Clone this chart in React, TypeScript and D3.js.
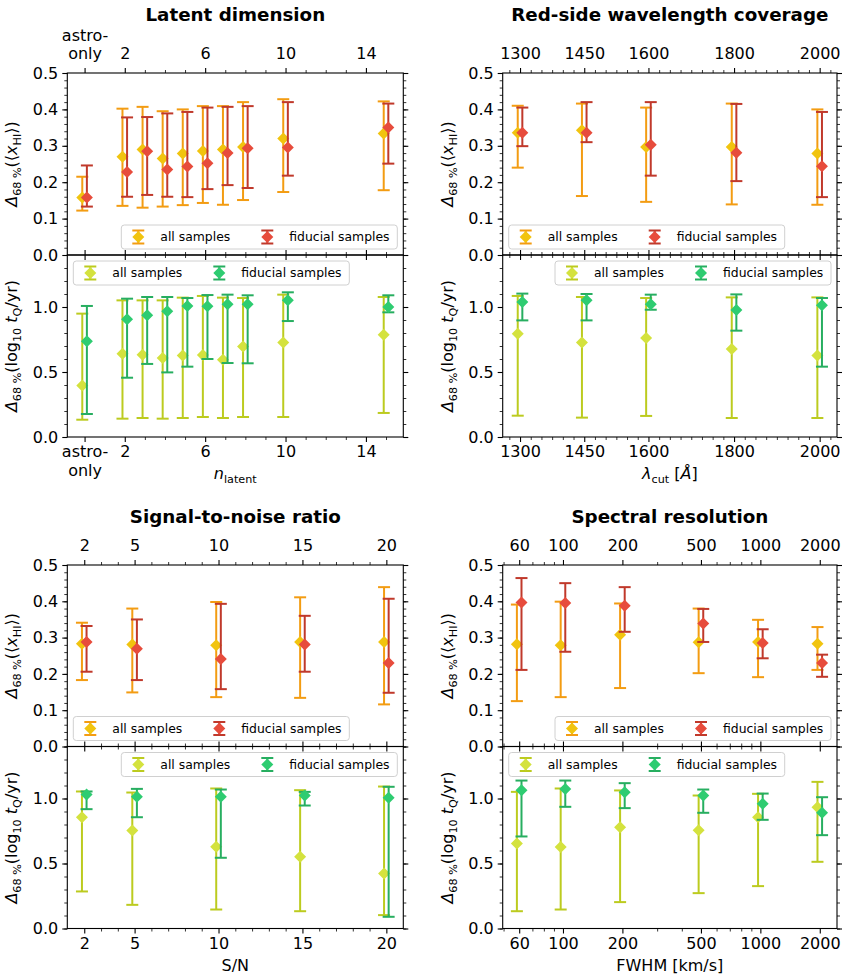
import React, { useEffect, useRef } from 'react';
import * as d3 from 'd3';

// ---- data: each row is [value, lower end of bar, upper end of bar] ----
const latentX = [0, 2, 3, 4, 5, 6, 7, 8, 10, 15];
const latentTicks = [0, 2, 6, 10, 14];
const latentTickLabels = ['astro-\nonly', '2', '6', '10', '14'];
const latentXhiAll = [[0.158, 0.122, 0.215], [0.27, 0.135, 0.402], [0.29, 0.13, 0.407], [0.265, 0.133, 0.395], [0.279, 0.137, 0.4], [0.286, 0.143, 0.409], [0.29, 0.138, 0.409], [0.297, 0.151, 0.42], [0.32, 0.173, 0.428], [0.334, 0.178, 0.422]];
const latentXhiFid = [[0.158, 0.133, 0.246], [0.228, 0.16, 0.378], [0.285, 0.165, 0.379], [0.235, 0.16, 0.389], [0.243, 0.159, 0.393], [0.252, 0.181, 0.405], [0.28, 0.192, 0.407], [0.293, 0.184, 0.409], [0.295, 0.218, 0.42], [0.35, 0.251, 0.416]];
const latentTqAll = [[0.397, 0.133, 0.949], [0.641, 0.141, 1.051], [0.633, 0.146, 1.051], [0.608, 0.141, 1.051], [0.626, 0.146, 1.072], [0.631, 0.154, 1.085], [0.595, 0.146, 1.072], [0.697, 0.154, 1.069], [0.726, 0.154, 1.095], [0.787, 0.185, 1.077]];
const latentTqFid = [[0.736, 0.177, 1.008], [0.905, 0.456, 1.064], [0.936, 0.562, 1.077], [0.967, 0.497, 1.077], [1.008, 0.541, 1.069], [1.005, 0.6, 1.092], [1.021, 0.569, 1.095], [1.021, 0.567, 1.09], [1.051, 0.892, 1.113], [1.0, 0.959, 1.09]];

const lambdaX = [1300, 1450, 1600, 1800, 2000];
const lambdaXhiAll = [[0.336, 0.24, 0.41], [0.343, 0.162, 0.416], [0.297, 0.146, 0.405], [0.297, 0.139, 0.416], [0.279, 0.138, 0.4]];
const lambdaXhiFid = [[0.336, 0.299, 0.405], [0.336, 0.31, 0.42], [0.303, 0.218, 0.42], [0.281, 0.203, 0.415], [0.244, 0.159, 0.393]];
const lambdaTqAll = [[0.795, 0.164, 1.085], [0.726, 0.149, 1.077], [0.762, 0.162, 1.069], [0.677, 0.146, 1.074], [0.626, 0.146, 1.074]];
const lambdaTqFid = [[1.038, 0.897, 1.103], [1.051, 0.897, 1.1], [1.021, 0.979, 1.095], [0.977, 0.818, 1.097], [1.013, 0.541, 1.069]];

const snrX = [2, 5, 10, 15, 20];
const snrXhiAll = [[0.283, 0.183, 0.341], [0.281, 0.149, 0.38], [0.279, 0.136, 0.398], [0.288, 0.134, 0.411], [0.288, 0.116, 0.439]];
const snrXhiFid = [[0.288, 0.206, 0.332], [0.269, 0.183, 0.35], [0.241, 0.158, 0.393], [0.281, 0.206, 0.36], [0.23, 0.148, 0.407]];
const snrTqAll = [[0.856, 0.285, 1.054], [0.754, 0.182, 1.046], [0.628, 0.146, 1.077], [0.551, 0.133, 1.064], [0.423, 0.103, 1.092]];
const snrTqFid = [[1.031, 0.918, 1.054], [1.013, 0.856, 1.074], [1.013, 0.544, 1.069], [1.023, 0.946, 1.051], [1.005, 0.09, 1.09]];

const fwhmX = [60, 100, 200, 500, 1000, 2000];
const fwhmXhiAll = [[0.282, 0.125, 0.391], [0.279, 0.136, 0.399], [0.308, 0.161, 0.394], [0.287, 0.202, 0.38], [0.288, 0.191, 0.349], [0.283, 0.211, 0.329]];
const fwhmXhiFid = [[0.397, 0.211, 0.464], [0.395, 0.261, 0.45], [0.388, 0.316, 0.439], [0.339, 0.288, 0.379], [0.285, 0.243, 0.323], [0.23, 0.192, 0.253]];
const fwhmTqAll = [[0.654, 0.133, 1.051], [0.626, 0.146, 1.077], [0.779, 0.203, 1.062], [0.756, 0.272, 1.023], [0.856, 0.326, 1.036], [0.933, 0.513, 1.128]];
const fwhmTqFid = [[1.064, 0.708, 1.138], [1.074, 0.936, 1.138], [1.049, 0.926, 1.118], [1.023, 0.89, 1.069], [0.959, 0.836, 1.038], [0.89, 0.718, 1.01]];

const FONT = "'DejaVu Sans', sans-serif";
const TICK_FS = 16;
const colors = {
  xhiAllMark: '#f1c40f', xhiAllBar: '#f39c12',
  xhiFidMark: '#e74c3c', xhiFidBar: '#c0392b',
  tqAllMark: '#d4e23e', tqAllBar: '#bccb1f',
  tqFidMark: '#2ecc71', tqFidBar: '#27ae60',
};

// label pieces: [text, style]  i = italic, s = subscript
type Seg = [string, string];
const yLabelXhi: Seg[] = [['Δ', 'i'], ['68 %', 's'], ['(⟨', ''], ['x', 'i'], ['HI', 's'], ['⟩)', '']];
const yLabelTq: Seg[] = [['Δ', 'i'], ['68 %', 's'], ['(log', ''], ['10', 's'], [' ', ''], ['t', 'i'], ['Q', 's'], ['/yr)', '']];

const panels = [
  {
    title: 'Latent dimension', titleY: 20.7, left: 67.3, right: 403.3, top: 73, mid: 255, bottom: 437,
    xs: latentX, log: false, domain: [-0.86, 15.86], major: latentTicks, majorLabels: latentTickLabels,
    minor: d3.range(3, 16).filter(v => !latentTicks.includes(v)),
    xlabel: [['n', 'i'], ['latent', 's']] as Seg[],
    xhiAll: latentXhiAll, xhiFid: latentXhiFid, tqAll: latentTqAll, tqFid: latentTqFid,
    legUpper: 'lower right', legLower: 'upper left',
  },
  {
    title: 'Red-side wavelength coverage', titleY: 20.7, left: 502.7, right: 837, top: 73, mid: 255, bottom: 437,
    xs: lambdaX, log: false, domain: [1259.5, 2040.5], major: lambdaX, majorLabels: lambdaX.map(String),
    minor: d3.range(1275, 2040, 25).filter(v => !lambdaX.includes(v)),
    xlabel: [['λ', 'i'], ['cut', 's'], [' [', ''], ['Å', 'i'], [']', '']] as Seg[],
    xhiAll: lambdaXhiAll, xhiFid: lambdaXhiFid, tqAll: lambdaTqAll, tqFid: lambdaTqFid,
    legUpper: 'lower left', legLower: 'upper right',
  },
  {
    title: 'Signal-to-noise ratio', titleY: 523.3, left: 67.3, right: 403.3, top: 565, mid: 746.5, bottom: 928.5,
    xs: snrX, log: false, domain: [0.99, 21.01], major: snrX, majorLabels: snrX.map(String),
    minor: d3.range(3, 20).filter(v => !snrX.includes(v)),
    xlabel: [['S/N', '']] as Seg[],
    xhiAll: snrXhiAll, xhiFid: snrXhiFid, tqAll: snrTqAll, tqFid: snrTqFid,
    legUpper: 'lower left', legLower: 'upper right',
  },
  {
    title: 'Spectral resolution', titleY: 523.3, left: 502.7, right: 837, top: 565, mid: 746.5, bottom: 928.5,
    xs: fwhmX, log: true, domain: [49.5, 2445], major: fwhmX, majorLabels: fwhmX.map(String),
    minor: [50, 70, 80, 90, 300, 400, 600, 700, 800, 900],
    xlabel: [['FWHM [km/s]', '']] as Seg[],
    xhiAll: fwhmXhiAll, xhiFid: fwhmXhiFid, tqAll: fwhmTqAll, tqFid: fwhmTqFid,
    legUpper: 'lower right', legLower: 'upper left',
  },
];

function richText(sel: any, segs: Seg[], size: number) {
  let shift = 0;
  segs.forEach(([t, st]) => {
    const sub = st.includes('s');
    const target = sub ? size * 0.26 : 0;
    sel.append('tspan')
      .attr('dy', target - shift)
      .attr('font-size', sub ? size * 0.7 : size)
      .attr('font-style', st.includes('i') ? 'italic' : 'normal')
      .text(t);
    shift = target;
  });
}

const diamond = d3.symbol(d3.symbolSquare, 72)();

function drawSeries(g: any, x: any, y: any, xs: number[], rows: number[][], dx: number, bar: string, mark: string) {
  const s = g.append('g');
  const cx = (i: number) => x(xs[i]) + dx;
  s.selectAll('.eb').data(rows).enter().append('line')
    .attr('x1', (d: any, i: number) => cx(i)).attr('x2', (d: any, i: number) => cx(i))
    .attr('y1', (d: number[]) => y(d[1])).attr('y2', (d: number[]) => y(d[2]))
    .attr('stroke', bar).attr('stroke-width', 2);
  [1, 2].forEach(k => {
    s.selectAll('.cap' + k).data(rows).enter().append('line')
      .attr('x1', (d: any, i: number) => cx(i) - 6).attr('x2', (d: any, i: number) => cx(i) + 6)
      .attr('y1', (d: number[]) => y(d[k])).attr('y2', (d: number[]) => y(d[k]))
      .attr('stroke', bar).attr('stroke-width', 2);
  });
  s.selectAll('.mk').data(rows).enter().append('path')
    .attr('d', diamond)
    .attr('transform', (d: number[], i: number) => `translate(${cx(i)},${y(d[0])}) rotate(45)`)
    .attr('fill', mark);
}

function drawLegend(g: any, loc: string, box: any, entries: { label: string; bar: string; mark: string }[]) {
  const w = 276, h = 24, pad = 6;
  const lx = loc.includes('left') ? box.left + pad : box.right - pad - w;
  const ly = loc.includes('upper') ? box.top + pad : box.bottom - pad - h;
  const lg = g.append('g').attr('transform', `translate(${lx},${ly})`);
  lg.append('rect').attr('width', w).attr('height', h).attr('rx', 3)
    .attr('fill', 'white').attr('fill-opacity', 0.8).attr('stroke', '#d0d0d0').attr('stroke-width', 1);
  entries.forEach((e, i) => {
    const hx = i === 0 ? 17 : 146;
    const cy = h / 2;
    lg.append('line').attr('x1', hx).attr('x2', hx).attr('y1', cy - 6.5).attr('y2', cy + 6.5)
      .attr('stroke', e.bar).attr('stroke-width', 2);
    [-6.5, 6.5].forEach(o => lg.append('line').attr('x1', hx - 6).attr('x2', hx + 6)
      .attr('y1', cy + o).attr('y2', cy + o).attr('stroke', e.bar).attr('stroke-width', 2));
    lg.append('path').attr('d', diamond).attr('transform', `translate(${hx},${cy}) rotate(45)`).attr('fill', e.mark);
    lg.append('text').attr('x', hx + 22).attr('y', cy).attr('dy', '0.36em')
      .attr('font-family', FONT).attr('font-size', 12.4).attr('fill', '#000').text(e.label);
  });
}

function styleAxis(sel: any, width: number) {
  sel.select('.domain').remove();
  sel.selectAll('line').attr('stroke', '#000').attr('stroke-width', width);
  sel.attr('font-family', FONT).attr('font-size', TICK_FS);
  sel.selectAll('text').attr('fill', '#000');
}

function drawPanel(svg: any, p: any) {
  const g = svg.append('g');
  const x = (p.log ? d3.scaleLog() : d3.scaleLinear()).domain(p.domain).range([p.left, p.right]);
  const yU = d3.scaleLinear().domain([0, 0.5]).range([p.mid, p.top]);
  const yL = d3.scaleLinear().domain([0, 1.4]).range([p.bottom, p.mid]);
  const noLab = () => '';

  // x ticks on all four horizontal spines
  const xSpines = [
    { fn: d3.axisTop, y: p.top, lab: true },
    { fn: d3.axisBottom, y: p.mid, lab: false },
    { fn: d3.axisTop, y: p.mid, lab: false },
    { fn: d3.axisBottom, y: p.bottom, lab: true },
  ];
  xSpines.forEach(s => {
    g.append('g').attr('transform', `translate(0,${s.y})`)
      .call(s.fn(x).tickValues(p.minor).tickSize(3).tickFormat(noLab)).call((a: any) => styleAxis(a, 0.8));
    const ax = g.append('g').attr('transform', `translate(0,${s.y})`)
      .call(s.fn(x).tickValues(p.major).tickSize(5).tickPadding(s.fn === d3.axisTop ? 9 : 4)
        .tickFormat(s.lab ? ((d: any, i: number) => p.majorLabels[i]) : noLab));
    styleAxis(ax, 1.1);
    if (s.lab) {
      ax.selectAll('text').each(function (this: any) {
        const t = d3.select(this);
        const lines = t.text().split('\n');
        if (lines.length < 2) return;
        const top = s.fn === d3.axisTop;
        t.text(null).attr('dy', null);
        lines.forEach((ln: string, k: number) => {
          t.append('tspan').attr('x', 0)
            .attr('dy', k === 0 ? (top ? '-1.15em' : '0.71em') : '1.15em').text(ln);
        });
      });
    }
  });

  // y ticks
  const ySets = [
    { scale: yU, major: d3.range(0, 0.51, 0.1), minor: d3.range(0, 0.501, 0.02) },
    { scale: yL, major: [0, 0.5, 1.0], minor: d3.range(0, 1.41, 0.1) },
  ];
  ySets.forEach(ys => {
    g.append('g').attr('transform', `translate(${p.left},0)`)
      .call(d3.axisLeft(ys.scale).tickValues(ys.minor).tickSize(3).tickFormat(noLab)).call((a: any) => styleAxis(a, 0.8));
    g.append('g').attr('transform', `translate(${p.left},0)`)
      .call(d3.axisLeft(ys.scale).tickValues(ys.major).tickSize(5).tickPadding(4)
        .tickFormat(d3.format('.1f'))).call((a: any) => styleAxis(a, 1.1));
    g.append('g').attr('transform', `translate(${p.right},0)`)
      .call(d3.axisRight(ys.scale).tickValues(ys.minor).tickSize(3).tickFormat(noLab)).call((a: any) => styleAxis(a, 0.8));
    g.append('g').attr('transform', `translate(${p.right},0)`)
      .call(d3.axisRight(ys.scale).tickValues(ys.major).tickSize(5).tickFormat(noLab)).call((a: any) => styleAxis(a, 1.1));
  });

  // data
  drawSeries(g, x, yU, p.xs, p.xhiAll, -2.3, colors.xhiAllBar, colors.xhiAllMark);
  drawSeries(g, x, yU, p.xs, p.xhiFid, 2.3, colors.xhiFidBar, colors.xhiFidMark);
  drawSeries(g, x, yL, p.xs, p.tqAll, -2.3, colors.tqAllBar, colors.tqAllMark);
  drawSeries(g, x, yL, p.xs, p.tqFid, 2.3, colors.tqFidBar, colors.tqFidMark);

  drawLegend(g, p.legUpper, { left: p.left, right: p.right, top: p.top, bottom: p.mid }, [
    { label: 'all samples', bar: colors.xhiAllBar, mark: colors.xhiAllMark },
    { label: 'fiducial samples', bar: colors.xhiFidBar, mark: colors.xhiFidMark },
  ]);
  drawLegend(g, p.legLower, { left: p.left, right: p.right, top: p.mid, bottom: p.bottom }, [
    { label: 'all samples', bar: colors.tqAllBar, mark: colors.tqAllMark },
    { label: 'fiducial samples', bar: colors.tqFidBar, mark: colors.tqFidMark },
  ]);

  // frames
  [[p.top, p.mid], [p.mid, p.bottom]].forEach(([a, b]) => {
    g.append('rect').attr('x', p.left).attr('y', a).attr('width', p.right - p.left).attr('height', b - a)
      .attr('fill', 'none').attr('stroke', '#000').attr('stroke-width', 1.1);
  });

  // title and labels
  const cx = (p.left + p.right) / 2;
  g.append('text').attr('x', cx).attr('y', p.titleY).attr('text-anchor', 'middle')
    .attr('font-family', FONT).attr('font-weight', 'bold').attr('font-size', 18.3).text(p.title);
  const xl = g.append('text').attr('x', cx).attr('y', p.bottom + 42).attr('text-anchor', 'middle')
    .attr('font-family', FONT).attr('font-size', TICK_FS);
  richText(xl, p.xlabel, TICK_FS);
  [[yLabelXhi, (p.top + p.mid) / 2], [yLabelTq, (p.mid + p.bottom) / 2]].forEach(([segs, cy]: any) => {
    const yl = g.append('text').attr('transform', `translate(${p.left - 50},${cy}) rotate(-90)`)
      .attr('text-anchor', 'middle').attr('dy', '0.35em').attr('font-family', FONT).attr('font-size', TICK_FS);
    richText(yl, segs, TICK_FS);
  });
}

const App = () => {
  const svgRef = useRef<SVGSVGElement>(null);

  useEffect(() => {
    const svg = d3.select(svgRef.current);
    svg.selectAll('*').remove();
    svg.append('rect').attr('width', 844).attr('height', 980).attr('fill', 'white');
    panels.forEach(p => drawPanel(svg, p));
  }, []);

  return (
    <svg ref={svgRef} width={844} height={980}
      style={{ position: 'absolute', left: 0, top: 0, display: 'block' }} />
  );
};

export default App;
